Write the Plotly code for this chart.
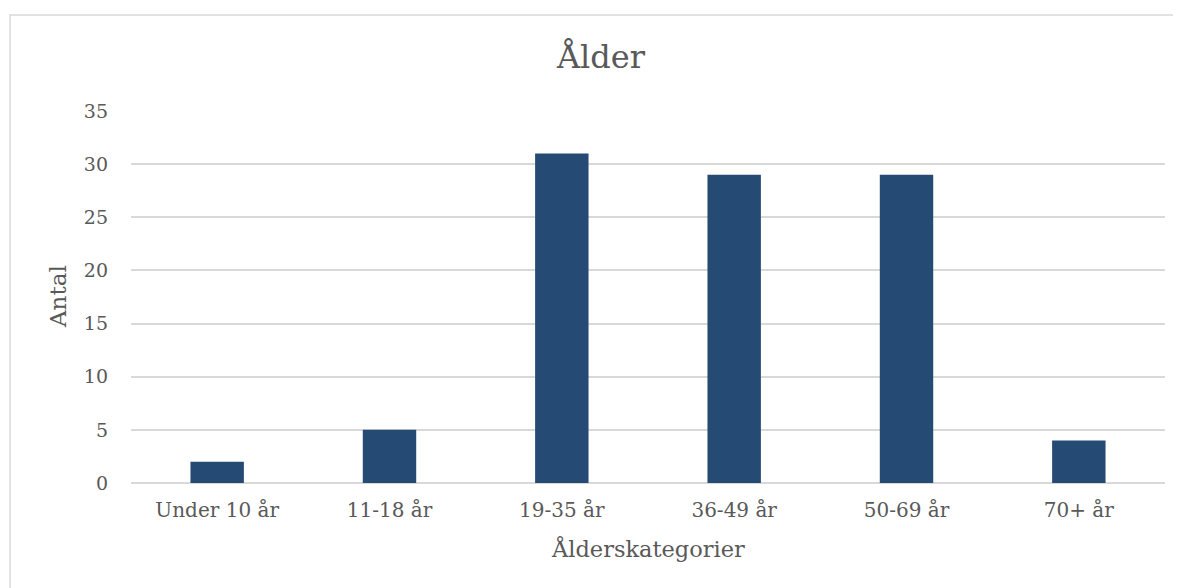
import plotly.graph_objects as go

categories = ["Under 10 år", "11-18 år", "19-35 år", "36-49 år", "50-69 år", "70+ år"]
values = [2, 5, 31, 29, 29, 4]
y_ticks = [0, 5, 10, 15, 20, 25, 30, 35]

FONT = "DejaVu Serif, Liberation Serif, serif"
GREY = "#595959"

# page body adds an 8px offset; compensate
OFF = 8
W, H = 1181, 588
L, R, T, B = 131 - OFF, 16 + OFF, 111 - OFF, 105 + OFF
pw, ph = W - L - R, H - T - B
y0px = 483 - OFF  # zero line in figure px

fig = go.Figure(go.Bar(x=categories, y=values, marker=dict(color="#254A73", line=dict(width=0)),
                       width=0.31))

fig.update_layout(
    width=W, height=H,
    margin=dict(l=L, r=R, t=T, b=B),
    paper_bgcolor="white", plot_bgcolor="white",
    font=dict(family=FONT, color=GREY, size=19),
    title=dict(text="Ålder", x=(601 - OFF) / W, xanchor="center", y=1 - (57 - OFF) / H, yanchor="middle",
               yref="container", font=dict(size=32, color=GREY, family=FONT)),
    showlegend=False,
    xaxis=dict(showgrid=False, showline=False, ticks="", tickfont=dict(size=20, color=GREY),
               zeroline=False, ticklabelstandoff=13),
    yaxis=dict(range=[0, 35], tickvals=y_ticks, showgrid=True, gridcolor="#d9d9d9", gridwidth=1.5,
               zeroline=True, zerolinecolor="#d9d9d9", zerolinewidth=1.5, showline=False,
               ticks="", tickfont=dict(size=19, color=GREY), ticklabelstandoff=22),
    annotations=[
        dict(text="Antal", textangle=-90, xref="paper", yref="paper", x=(58 - OFF - L) / pw, y=0.5,
             xanchor="center", yanchor="middle", showarrow=False, font=dict(size=23, color=GREY)),
        dict(text="Ålderskategorier", xref="paper", yref="paper", x=0.5, y=(y0px - (548 - OFF)) / ph,
             xanchor="center", yanchor="middle", showarrow=False, font=dict(size=22.5, color=GREY)),
    ],
    shapes=[
        dict(type="rect", xref="paper", yref="paper", x0=(10 - OFF - L) / pw, x1=1.2,
             y0=-0.6, y1=(y0px - (15 - OFF)) / ph, line=dict(color="#d9d9d9", width=1.5), layer="below"),
    ],
)

fig.write_html("out.html")
